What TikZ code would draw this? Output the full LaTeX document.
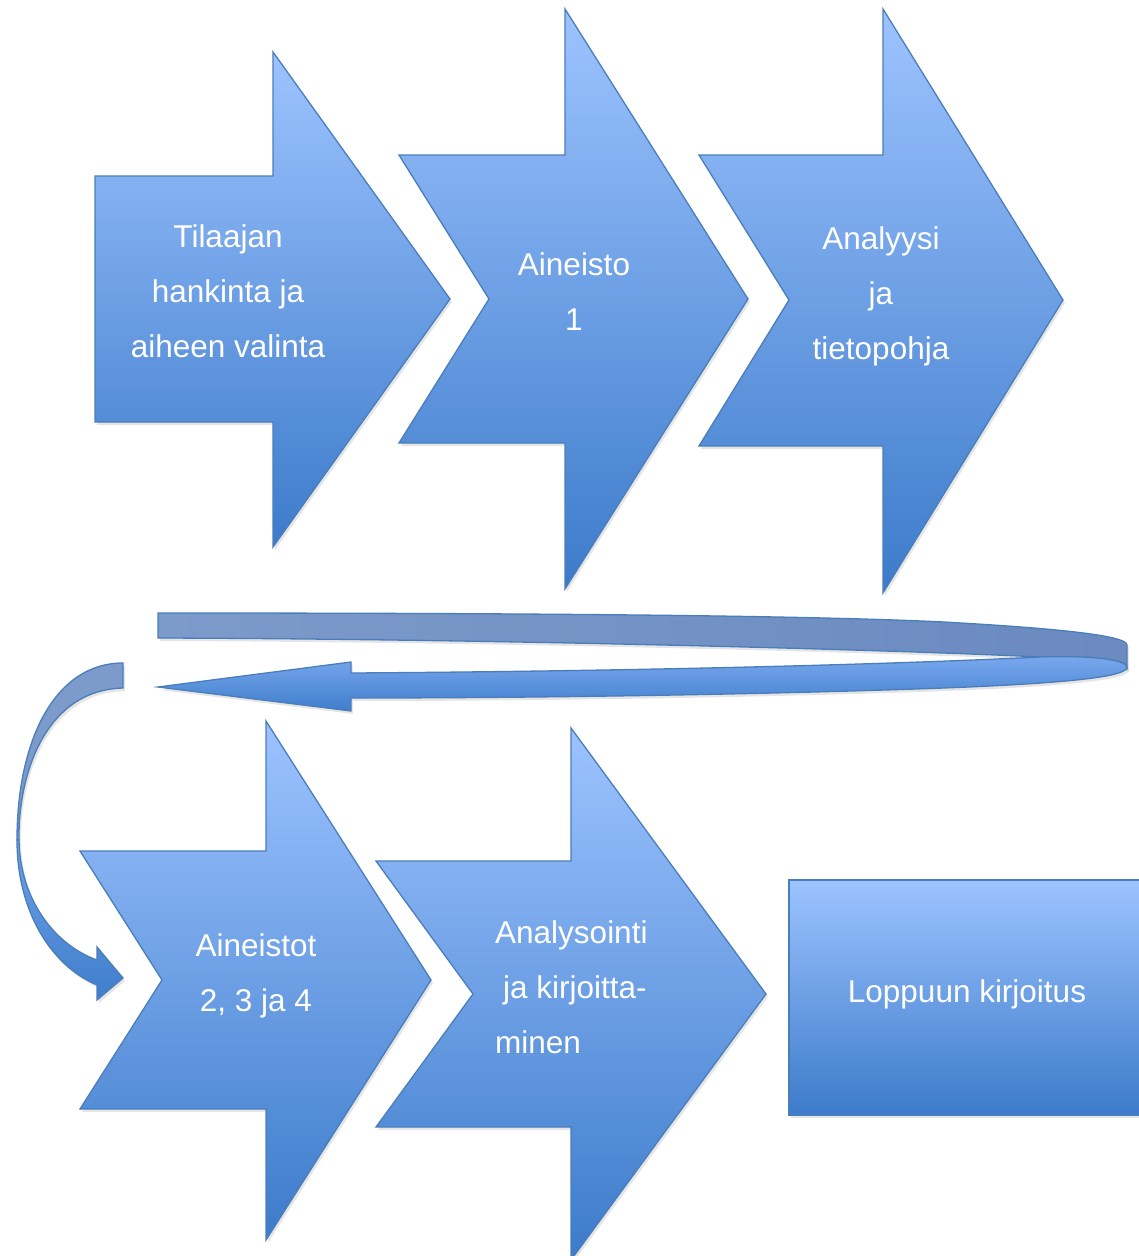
\documentclass[tikz,border=0pt]{standalone}
\usepackage{fontspec}
\setmainfont{Liberation Sans}
\usetikzlibrary{shadows}
\definecolor{gtop}{HTML}{9DC3FF}
\definecolor{gbot}{HTML}{3C7BCA}
\definecolor{edgeblue}{HTML}{4A7EBB}
\definecolor{backA}{HTML}{7C9BCB}
\definecolor{backB}{HTML}{6A8AC0}
\definecolor{frontA}{HTML}{7AA8EE}
\definecolor{frontB}{HTML}{3F7ECC}
\begin{document}
\begin{tikzpicture}[x=1pt,y=-1pt,
  shapestyle/.style={draw=edgeblue, line width=1.3pt, top color=gtop, bottom color=gbot, line join=miter},
  shad/.style={drop shadow={opacity=0.2, shadow xshift=2pt, shadow yshift=-3pt}},
  ribbonback/.style={draw=edgeblue, line width=1.3pt, left color=backA, right color=backB},
  ribbonfront/.style={draw=edgeblue, line width=1.3pt, top color=frontA, bottom color=frontB},
  lbl/.style={text=white, font=\fontsize{31.5}{55}\selectfont, align=center, inner sep=0pt},
]
\useasboundingbox (0,0) rectangle (1139,1256);
\fill[white] (0,0) rectangle (1139,1256);

% top row
\path[shapestyle, shad] (95,176) -- (273,176) -- (273,52) -- (450,299) -- (273,547) -- (273,422) -- (95,422) -- cycle;
\path[shapestyle, shad] (399,155) -- (565,155) -- (565,9) -- (748,299) -- (565,589) -- (565,443) -- (399,443) -- (489,299) -- cycle;
\path[shapestyle, shad] (699,155) -- (883,155) -- (883,9) -- (1063,300) -- (883,593) -- (883,446) -- (699,446) -- (789,300) -- cycle;

% return ribbon arrow
\path[ribbonback, shad] (158,613) .. controls (500,613) and (800,615) .. (944,622)
  .. controls (1050,628) and (1127,635) .. (1127,645) -- (1127,669)
  .. controls (1118,662) and (1090,657) .. (1040,657)
  .. controls (900,650) and (500,639) .. (158,638) -- cycle;
\path[ribbonfront, shad] (158,687) -- (351,662) -- (351,673)
  .. controls (650,671) and (900,664) .. (1040,657)
  .. controls (1100,655) and (1127,661) .. (1127,667)
  .. controls (1127,674) and (1100,682) .. (944,688)
  .. controls (780,694) and (550,698) .. (351,698) -- (351,711) -- cycle;

% curved arrow on the left
\path[draw=edgeblue, line width=1.3pt, fill=backA, shad] (123,663) .. controls (55,663) and (17,740) .. (17,840)
  -- (19,840) .. controls (18,775) and (45,690) .. (123,688) -- cycle;
\path[draw=edgeblue, line width=1.3pt, top color=frontA!80!frontB, bottom color=frontB, shad] (17,840) .. controls (17,910) and (50,965) .. (97,985)
  -- (97,1000) -- (123,978) -- (97,947) -- (97,960)
  .. controls (55,945) and (20,900) .. (19,840) -- cycle;

% bottom row
\path[shapestyle, shad] (80,851) -- (266,851) -- (266,721) -- (431,980) -- (266,1240) -- (266,1109) -- (80,1109) -- (162,980) -- cycle;
\path[shapestyle, shad] (376,861) -- (571,861) -- (571,728) -- (766,994) -- (571,1260) -- (571,1127) -- (376,1127) -- (473,994) -- cycle;
\path[shapestyle, shad] (789,880) rectangle (1150,1115);

% labels
\node[lbl] (t1) at (228,291) {Tilaajan\\hankinta ja\\aiheen valinta};
\node[lbl] (t2) at (574,292) {Aineisto\\1};
\node[lbl] (t3) at (881,296) {Analyysi\\ja\\tietopohja};
\node[lbl] (t4) at (256,975.5) {Aineistot\\2, 3 ja 4};
\node[lbl, align=left, anchor=west] (t5) at (495,987) {Analysointi\\\hspace*{8pt}ja kirjoitta-\\minen};
\node[lbl] (t6) at (967,994) {Loppuun kirjoitus};
\end{tikzpicture}
\end{document}
